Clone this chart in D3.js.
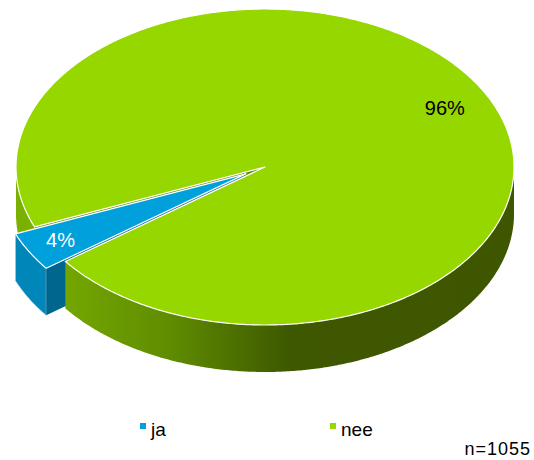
<!DOCTYPE html>
<html><head><meta charset="utf-8">
<script src="https://cdn.jsdelivr.net/npm/d3@7"></script>
<style>html,body{margin:0;padding:0;background:#fff}svg{display:block}</style>
</head><body>
<svg id="c" width="534" height="460"></svg>
<script>
const categories = ["ja", "nee"];
const values = [4, 96];
const labels = ["4%", "96%"];
const sampleSize = "n=1055";

const W = 534, H = 460;
const cx = 265, cy = 167, rx = 249, ry = 158, depth = 47, explode = 22;
const topColors = {ja: "#00A0DC", nee: "#96D700"};
const svg = d3.select("#c");
const defs = svg.append("defs");
const g1 = defs.append("linearGradient").attr("id", "gw").attr("gradientUnits", "userSpaceOnUse")
  .attr("x1", cx - rx).attr("x2", cx + rx).attr("y1", 0).attr("y2", 0);
[[0, "#80B800"], [0.1, "#73A600"], [0.3, "#608E00"], [0.55, "#3E5800"], [1, "#3E5600"]]
  .forEach(([o, c]) => g1.append("stop").attr("offset", o).attr("stop-color", c));

const deg = Math.PI / 180;
const start = 233.3 * deg;
const pie = d3.pie().sort(null).startAngle(start).endAngle(start + 2 * Math.PI);
const arcs = pie(values).map((d, i) => {
  const t0 = d.startAngle - Math.PI / 2, t1 = d.endAngle - Math.PI / 2;
  const tm = (t0 + t1) / 2;
  const ex = i === 0 ? explode : 0;
  return {cat: categories[i], label: labels[i], t0, t1, tm,
    ox: ex * Math.cos(tm), oy: ex * (ry / rx) * Math.sin(tm)};
});

function pt(a, t, r, dz) { return [cx + a.ox + r * rx * Math.cos(t), cy + a.oy + r * ry * Math.sin(t) + (dz || 0)]; }
function arcPts(a, t0, t1, dz) {
  const n = Math.max(2, Math.ceil(Math.abs(t1 - t0) / (0.5 * deg)));
  return d3.range(n + 1).map(k => pt(a, t0 + (t1 - t0) * k / n, 1, dz));
}
const line = d3.line();
function topPath(a) { return line([pt(a, 0, 0)].concat(arcPts(a, a.t0, a.t1))) + "Z"; }
function wallPath(a, t0, t1) {
  const up = arcPts(a, t0, t1, 0), dn = arcPts(a, t0, t1, depth).reverse();
  return line(up.concat(dn)) + "Z";
}
function facePath(a, t) {
  const c = pt(a, 0, 0), o = pt(a, t, 1);
  return line([c, o, [o[0], o[1] + depth], [c[0], c[1] + depth]]) + "Z";
}
function frontRanges(a) {
  const res = [];
  for (let k = -1; k <= 2; k++) {
    const lo = Math.max(a.t0, k * 2 * Math.PI), hi = Math.min(a.t1, k * 2 * Math.PI + Math.PI);
    if (hi > lo) res.push([lo, hi]);
  }
  return res;
}
const blue = arcs[0], green = arcs[1];
const gRanges = frontRanges(green);
const gBack = gRanges.filter(r => r[0] < green.t0 + Math.PI / 2);
const gFront = gRanges.filter(r => !gBack.includes(r));

const L = svg.append("g");
if (Math.sin(green.t0 - Math.PI / 2) > 0) L.append("path").attr("d", facePath(green, green.t0)).attr("fill", "#5E8C00");
gBack.forEach(r => L.append("path").attr("d", wallPath(green, r[0], r[1])).attr("fill", "#7AB000"));
frontRanges(blue).forEach(r => L.append("path").attr("d", wallPath(blue, r[0], r[1])).attr("fill", "#0086B8")
  .attr("stroke", "#9FD3EA").attr("stroke-width", 0.6));
if (Math.sin(blue.t0 - Math.PI / 2) > 0) L.append("path").attr("d", facePath(blue, blue.t0)).attr("fill", "#00668E");
gFront.forEach(r => L.append("path").attr("d", wallPath(green, r[0], r[1])).attr("fill", "url(#gw)"));
[green, blue].forEach(a => L.append("path").attr("d", topPath(a)).attr("fill", topColors[a.cat])
  .attr("stroke", "#fff").attr("stroke-width", 1.2).attr("stroke-linejoin", "round"));

// data labels
const lr = {ja: 0.855, nee: 0.83}, ldy = {ja: 7, nee: 13};
arcs.forEach(a => {
  const p = pt(a, a.tm, lr[a.cat]);
  svg.append("text").attr("x", p[0]).attr("y", p[1] + ldy[a.cat]).attr("text-anchor", "middle")
    .attr("font-family", "Liberation Sans, Arial, sans-serif").attr("font-size", 20)
    .attr("fill", a.cat === "ja" ? "#fff" : "#000").text(a.label);
});

// legend
const lx = d3.scalePoint().domain(categories).range([140, 330]);
categories.forEach(c => {
  svg.append("rect").attr("x", lx(c)).attr("y", 423).attr("width", 6).attr("height", 6).attr("fill", topColors[c]);
  svg.append("text").attr("x", lx(c) + 11).attr("y", 436).attr("font-family", "Liberation Sans, Arial, sans-serif")
    .attr("font-size", 19).attr("fill", "#000").text(c);
});
svg.append("text").attr("x", 531).attr("y", 455).attr("text-anchor", "end")
  .attr("font-family", "Liberation Sans, Arial, sans-serif").attr("font-size", 18).attr("letter-spacing", 1)
  .attr("fill", "#000").text(sampleSize);
</script>
</body></html>
